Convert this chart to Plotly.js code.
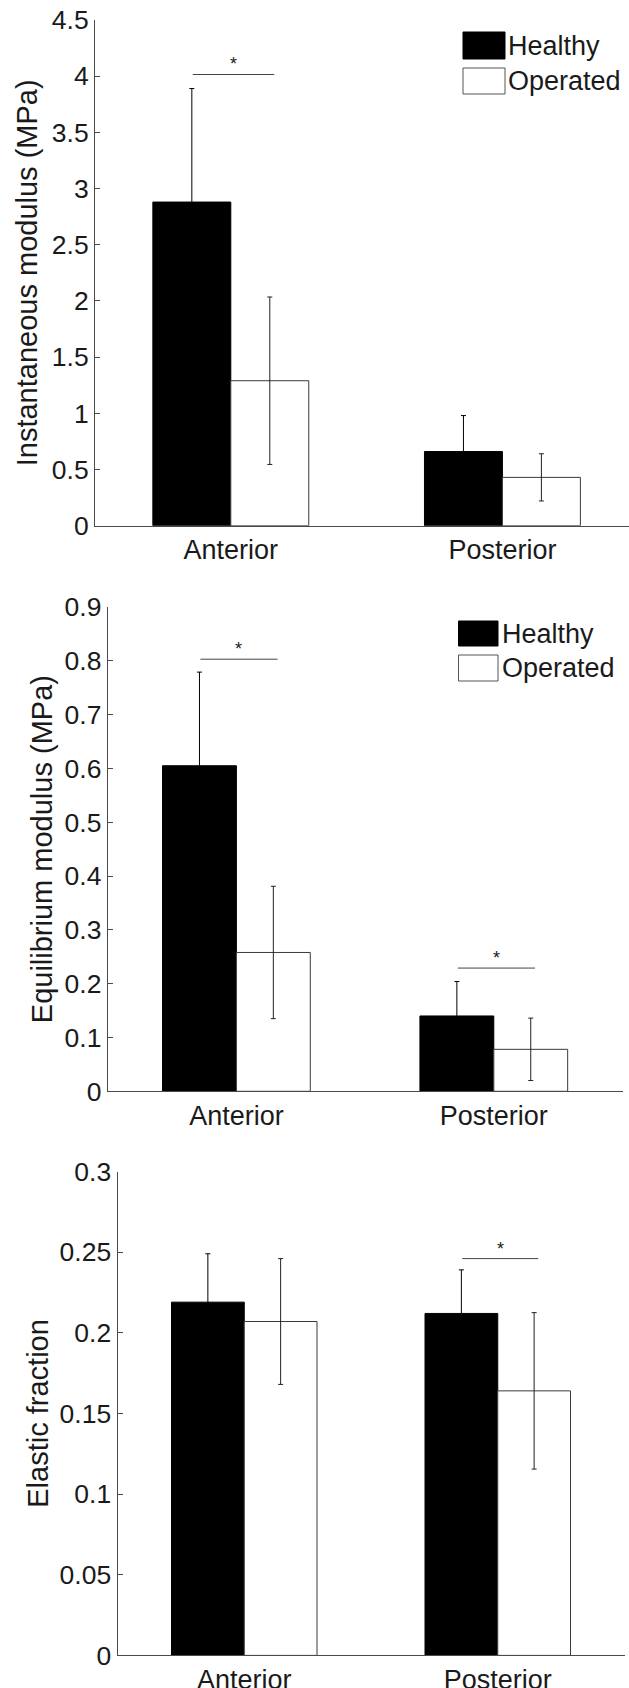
<!DOCTYPE html>
<html>
<head>
<meta charset="utf-8">
<script src="https://cdn.plot.ly/plotly-3.0.1.min.js"></script>
<style>
  html, body { margin: 0; padding: 0; background: #fff; overflow: hidden; }
  #chart { width: 629px; height: 1688px; }
</style>
</head>
<body>
<div id="chart"></div>
<script>
// ---------- data ----------
const categories = ['Anterior', 'Posterior'];
const seriesNames = ['Healthy', 'Operated'];

// Instantaneous modulus (MPa)
const instHealthy = [2.88, 0.66];
const instHealthyErr = [1.01, 0.32];
const instOperated = [1.29, 0.43];
const instOperatedErr = [0.745, 0.21];
const instSignificant = ['Anterior'];
const instSigLevel = [4.015];

// Equilibrium modulus (MPa)
const eqHealthy = [0.605, 0.140];
const eqHealthyErr = [0.174, 0.064];
const eqOperated = [0.258, 0.078];
const eqOperatedErr = [0.123, 0.058];
const eqSignificant = ['Anterior', 'Posterior'];
const eqSigLevel = [0.803, 0.229];

// Elastic fraction
const efHealthy = [0.219, 0.212];
const efHealthyErr = [0.030, 0.027];
const efOperated = [0.207, 0.164];
const efOperatedErr = [0.039, 0.0485];
const efSignificant = ['Posterior'];
const efSigLevel = [0.246];

const yTitles = ['Instantaneous modulus (MPa)', 'Equilibrium modulus (MPa)', 'Elastic fraction'];

// ---------- layout helpers ----------
const W = 629, H = 1688;
const FONT = 'Liberation Sans, Arial, Helvetica, sans-serif';
const AX = '#4a4a4a';
const TXT = '#1a1a1a';
const px = v => v / W;
const py = v => 1 - v / H;

function barPair(h, he, o, oe, xa, ya) {
  return [
    { type: 'bar', name: seriesNames[0], x: categories, y: h, xaxis: xa, yaxis: ya,
      marker: { color: '#000', line: { color: '#000', width: 1 } },
      error_y: { type: 'data', array: he, visible: true, color: '#000', thickness: 1, width: 2.5 },
      showlegend: false, hoverinfo: 'skip' },
    { type: 'bar', name: seriesNames[1], x: categories, y: o, xaxis: xa, yaxis: ya,
      marker: { color: '#fff', line: { color: '#3a3a3a', width: 1 } },
      error_y: { type: 'data', array: oe, visible: true, color: '#222', thickness: 1, width: 2.5 },
      showlegend: false, hoverinfo: 'skip' }
  ];
}

const data = [
  ...barPair(instHealthy, instHealthyErr, instOperated, instOperatedErr, 'x', 'y'),
  ...barPair(eqHealthy, eqHealthyErr, eqOperated, eqOperatedErr, 'x2', 'y2'),
  ...barPair(efHealthy, efHealthyErr, efOperated, efOperatedErr, 'x3', 'y3')
];

function xAxis(dom, range, anchor) {
  return {
    domain: dom, anchor: anchor, type: 'category', range: range,
    showline: true, linecolor: AX, linewidth: 1, ticks: '', showgrid: false, zeroline: false,
    tickfont: { family: FONT, size: 27, color: TXT }, fixedrange: true
  };
}
function yAxis(dom, range, dtick, anchor, title, standoff) {
  return {
    domain: dom, anchor: anchor, range: range, tick0: 0, dtick: dtick,
    showline: true, linecolor: AX, linewidth: 1, ticks: 'inside', ticklen: 5, tickcolor: AX,
    showgrid: false, zeroline: false, fixedrange: true,
    tickfont: { family: FONT, size: 26.5, color: TXT },
    title: { text: title, font: { family: FONT, size: 29, color: TXT }, standoff: standoff }
  };
}

const shapes = [];
const annotations = [];

function sig(cats, levels, xr, yr) {
  cats.forEach((c, i) => {
    const idx = categories.indexOf(c);
    shapes.push({ type: 'line', xref: xr, yref: yr, x0: idx - 0.14, x1: idx + 0.16,
      y0: levels[i], y1: levels[i], line: { color: '#444', width: 1 } });
    annotations.push({ xref: xr, yref: yr, x: idx + 0.01, y: levels[i], text: '*',
      showarrow: false, yanchor: 'bottom', yshift: -2,
      font: { family: FONT, size: 18, color: TXT } });
  });
}
sig(instSignificant, instSigLevel, 'x', 'y');
sig(eqSignificant, eqSigLevel, 'x2', 'y2');
sig(efSignificant, efSigLevel, 'x3', 'y3');

function legendBox(x0, x1, yTop1, yBot1, yTop2, yBot2, textX) {
  shapes.push({ type: 'rect', xref: 'paper', yref: 'paper', x0: px(x0), x1: px(x1),
    y0: py(yBot1), y1: py(yTop1), fillcolor: '#000', line: { color: '#000', width: 1 } });
  shapes.push({ type: 'rect', xref: 'paper', yref: 'paper', x0: px(x0), x1: px(x1),
    y0: py(yBot2), y1: py(yTop2), fillcolor: '#fff', line: { color: '#555', width: 1 } });
  annotations.push({ xref: 'paper', yref: 'paper', x: px(textX), y: py((yTop1 + yBot1) / 2),
    text: seriesNames[0], showarrow: false, xanchor: 'left', yanchor: 'middle',
    font: { family: FONT, size: 27, color: TXT } });
  annotations.push({ xref: 'paper', yref: 'paper', x: px(textX), y: py((yTop2 + yBot2) / 2),
    text: seriesNames[1], showarrow: false, xanchor: 'left', yanchor: 'middle',
    font: { family: FONT, size: 27, color: TXT } });
}
legendBox(463, 505, 32, 59, 68, 94, 506);
legendBox(458.5, 498, 621, 646, 655, 681, 500);

const layout = {
  width: W, height: H,
  margin: { l: 0, r: 0, t: 0, b: 0 },
  paper_bgcolor: '#fff', plot_bgcolor: '#fff',
  barmode: 'group', bargap: 0.426, bargroupgap: 0,
  showlegend: false,
  xaxis: xAxis([px(95), 1], [-0.5, 1.466], 'y'),
  yaxis: yAxis([py(525.7), py(20)], [0, 4.5], 0.5, 'x', yTitles[0], 5),
  xaxis2: xAxis([px(107.7), px(622.5)], [-0.5, 1.5], 'y2'),
  yaxis2: yAxis([py(1091.3), py(607)], [0, 0.9], 0.1, 'x2', yTitles[1], 3),
  xaxis3: xAxis([px(117.5), px(624.5)], [-0.5, 1.5], 'y3'),
  yaxis3: yAxis([py(1655.4), py(1171.5)], [0, 0.3], 0.05, 'x3', yTitles[2], 2),
  shapes: shapes,
  annotations: annotations
};

Plotly.newPlot('chart', data, layout, { displayModeBar: false, staticPlot: true });
</script>
</body>
</html>
